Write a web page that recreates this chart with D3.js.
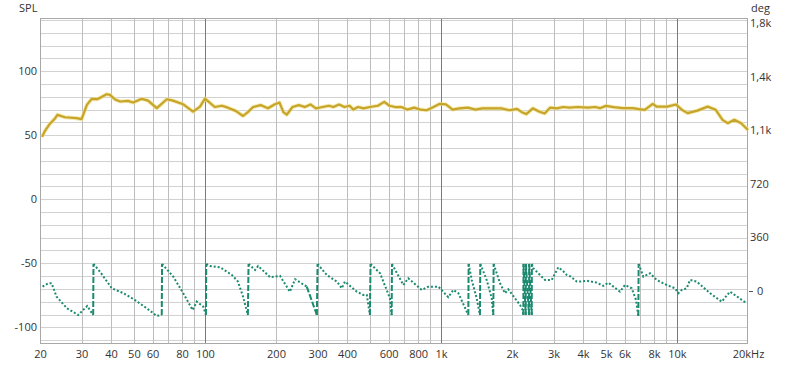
<!DOCTYPE html>
<html><head><meta charset="utf-8">
<script src="https://cdn.jsdelivr.net/npm/d3@7"></script>
<style>
html,body{margin:0;padding:0;background:#fff;}
svg{display:block;font-family:"Open Sans",sans-serif;}
</style></head>
<body><svg id="c" width="800" height="369"></svg>
<script>
// ---- data ----
const freqTicks = [20,30,40,50,60,80,100,200,300,400,600,800,1000,2000,3000,4000,5000,6000,8000,10000,20000];
const freqTickLabels = ["20","30","40","50","60","80","100","200","300","400","600","800","1k","2k","3k","4k","5k","6k","8k","10k","20kHz"];
const splTicks = [-100,-50,0,50,100];
const degTicks = [0,360,720,1080,1440,1800];
const degTickLabels = ["0","360","720","1,1k","1,4k","1,8k"];

const splFreq = [20.4,21,22,23.2,23.7,25.5,28.6,30,31.6,33.1,35,38.3,39.6,41.6,43.7,47.2,49.6,54,57.4,62.5,68.9,73.2,80.7,89,95.3,100,
 110,118,125,135,145,152,160,172,185,197,207,215,222,235,250,265,280,295,315,335,350,370,390,410,425,445,470,500,540,575,605,640,680,720,770,820,870,930,990,1050,1120,1200,1300,1400,1500,1650,1800,1950,2100,2200,2300,2450,2600,2750,2900,3100,3300,3500,3800,4200,4500,4720,5000,5400,5900,6500,6900,7300,7900,8200,9100,9900,10500,11100,12200,13500,14600,15600,16400,17500,18700,20000];
const splValues = [48.7,53.4,58.8,63.3,65.9,64,63.3,62.5,73.7,78.3,78.1,82,81.5,77.9,76.3,76.8,75.5,78.4,77,71.1,78.1,77,74.2,68.4,72.3,78.6,
 72,73,71.5,69,65,68,72,73.5,71,74,75.5,68,66,72,73.5,72,74,71,72,73,72,74,72,73,70,72,71,72,73,76,73,72,72,70,71.5,70,69.5,72,74.5,74,70,71,71.5,70,71,71,71,69.5,70.5,68,66.5,71,68.5,67,71.5,71,72,71.5,72,71.5,72,71.1,72.9,71.9,71.1,71.1,70.3,69.8,74.5,72.3,72.3,74,69.8,67.2,69.2,72.3,69.8,62,59.4,62,59.4,54.1];

const phaseFreq = [20.5,21.7,22.4,23.5,26,29,31.7,33.6,
 33.7,35.9,40.3,45.1,50.5,56.6,62.5,65.6,
 65.8,73.4,80.9,88.7,92.3,98.4,101,
 101.3,105,116,130,138,145,152,
 153,163,168,189,208,229,241,270,298,
 300,328,362,380,392,440,469,485,500,
 503,552,608,618,
 620,693,727,829,884,975,1074,1128,1185,1306,
 1310,1350,1417,1463,
 1468,1562,1641,1666,
 1672,1779,1868,1929,2162,2220,2234,
 2238,2286,
 2290,2361,
 2365,2424,
 2428,2462,2760,2946,3142,3300,3410,3550,3762,3884,4146,4570,4876,5118,5736,6022,6432,6708,6860,
 6880,7202,7686,8206,9050,9814,10136,10476,11000,11358,12124,13804,15474,16778,19748];
const phaseValues = [27,50,50,-40,-118,-164,-103,-164,
 180,128,16,-17,-63,-118,-170,-164,
 180,94,-17,-130,-74,-108,-164,
 180,166,157,106,61,-40,-164,
 180,139,166,90,99,-7,77,27,-164,
 180,106,61,16,61,-7,-29,-29,-164,
 180,117,-51,-164,
 180,38,83,5,27,27,-44,5,-17,-164,
 180,72,-51,-164,
 180,72,-51,-164,
 180,50,-17,9,-96,-130,-164,
 180,-164,
 180,-164,
 180,-164,
 180,151,72,72,157,130,106,94,61,61,67,54,32,54,-7,38,16,-63,-170,
 180,94,117,72,38,16,-17,5,16,72,61,-17,-74,-7,-85];

// ---- layout ----
const L = 40, R = 748, T = 18, B = 344;
const svg = d3.select("#c");
const x = d3.scaleLog().domain([20,20000]).range([L,R]);
const yL = d3.scaleLinear().domain([-113,141.5]).range([B,T]);
const yR = d3.scaleLinear().domain([-359,1835]).range([B,T]);

// grid
const g = svg.append("g");
g.selectAll("line.h").data(d3.range(-110,141,10)).join("line")
 .attr("x1",L).attr("x2",R).attr("y1",d=>Math.round(yL(d))+0.5).attr("y2",d=>Math.round(yL(d))+0.5)
 .attr("stroke","#d2d2d2").attr("stroke-width",1);
const vgrid = [];
[10,100,1000,10000].forEach(dec=>{for(let k=1;k<10;k++){const f=dec*k; if(f>20&&f<20000) vgrid.push(f);}});
g.selectAll("line.v").data(vgrid).join("line")
 .attr("y1",T).attr("y2",B).attr("x1",d=>Math.round(x(d))+0.5).attr("x2",d=>Math.round(x(d))+0.5)
 .attr("stroke",d=>[100,1000,10000].includes(d)?"#7a7a7a":"#bdbdbd").attr("stroke-width",1);
svg.append("rect").attr("x",L+0.5).attr("y",T+0.5).attr("width",R-L-1).attr("height",B-T-1)
 .attr("fill","none").attr("stroke","#a8a8a8");

// SPL line
const splData = splFreq.map((f,i)=>[f,splValues[i]]);
const lineL = d3.line().x(d=>x(d[0])).y(d=>yL(d[1]));
svg.append("path").attr("d",lineL(splData)).attr("fill","none").attr("stroke","#efe08c").attr("stroke-width",4).attr("stroke-linejoin","round").attr("opacity",0.7);
svg.append("path").attr("d",lineL(splData)).attr("fill","none").attr("stroke","#c6a52a").attr("stroke-width",2.2).attr("stroke-linejoin","round");

// phase line
const ph = phaseFreq.map((f,i)=>[f,phaseValues[i]]);
const lineR = d3.line().x(d=>x(d[0])).y(d=>yR(d[1]));
let seg=[ph[0]]; const dotted=[], jumps=[];
for(let i=1;i<ph.length;i++){
  if(Math.abs(ph[i][1]-ph[i-1][1])>180){ dotted.push(seg); jumps.push([ph[i-1],ph[i]]); seg=[ph[i]]; }
  else seg.push(ph[i]);
}
dotted.push(seg);
const pc = "#1b8a6f";
svg.append("g").selectAll("path").data(dotted).join("path").attr("d",d=>lineR(d))
 .attr("fill","none").attr("stroke",pc).attr("stroke-width",2).attr("stroke-dasharray","2,2");
svg.append("g").selectAll("path").data(jumps).join("path").attr("d",d=>lineR(d))
 .attr("fill","none").attr("stroke",pc).attr("stroke-width",2).attr("stroke-dasharray","6,2");

// axes
const txt = "#333";
const ax = svg.append("g").attr("transform",`translate(0,${B})`)
 .call(d3.axisBottom(x).tickValues(freqTicks).tickFormat((d,i)=>freqTickLabels[i]).tickSize(0).tickPadding(6));
const al = svg.append("g").attr("transform",`translate(${L},0)`)
 .call(d3.axisLeft(yL).tickValues(splTicks).tickFormat(d=>String(d)).tickSize(0).tickPadding(3));
const ar = svg.append("g").attr("transform",`translate(${R},0)`)
 .call(d3.axisRight(yR).tickValues(degTicks).tickFormat((d,i)=>degTickLabels[i]).tickSize(0).tickPadding(2));
[ax,al,ar].forEach(a=>{a.select(".domain").remove(); a.selectAll("text").attr("fill",txt).style("font-size","11px").style("font-family","'Open Sans',sans-serif");});
// small tick at 0 deg
svg.append("line").attr("x1",R+1).attr("x2",R+5).attr("y1",Math.round(yR(0))+0.5).attr("y2",Math.round(yR(0))+0.5).attr("stroke","#555");
ar.selectAll("text").filter(d=>d===0).attr("x",9);

svg.append("text").attr("x",19).attr("y",12).text("SPL").attr("fill",txt).style("font-size","11px");
svg.append("text").attr("x",751).attr("y",12).text("deg").attr("fill",txt).style("font-size","11px");
</script></body></html>
